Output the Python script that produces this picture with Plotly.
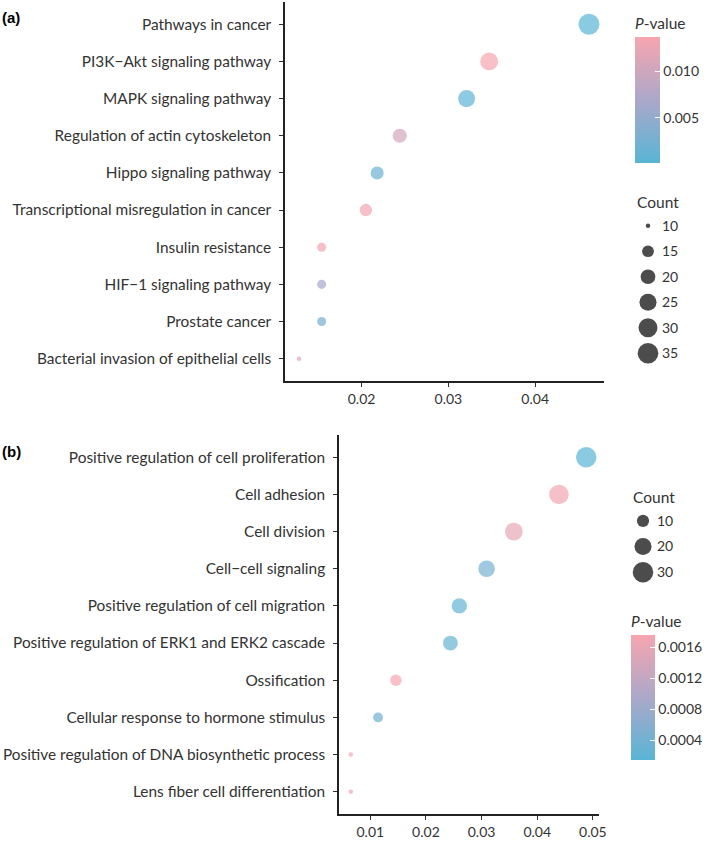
import plotly.graph_objects as go

# (a) KEGG pathways
kegg_terms = ["Pathways in cancer", "PI3K\u2212Akt signaling pathway", "MAPK signaling pathway",
              "Regulation of actin cytoskeleton", "Hippo signaling pathway",
              "Transcriptional misregulation in cancer", "Insulin resistance",
              "HIF\u22121 signaling pathway", "Prostate cancer", "Bacterial invasion of epithelial cells"]
kegg_ratio = [0.0462, 0.0347, 0.0321, 0.0244, 0.0218, 0.0205, 0.0154, 0.0154, 0.0154, 0.0128]
kegg_count = [36, 27, 25, 19, 17, 16, 12, 12, 12, 10]
kegg_p = [0.00014, 0.0137, 0.0006, 0.0105, 0.0015, 0.0132, 0.0133, 0.0065, 0.0022, 0.0115]
kegg_legend = [10, 15, 20, 25, 30, 35]

# (b) GO biological process
go_terms = ["Positive regulation of cell proliferation", "Cell adhesion", "Cell division",
            "Cell\u2212cell signaling", "Positive regulation of cell migration",
            "Positive regulation of ERK1 and ERK2 cascade", "Ossification",
            "Cellular response to hormone stimulus", "Positive regulation of DNA biosynthetic process",
            "Lens fiber cell differentiation"]
go_ratio = [0.0488, 0.0439, 0.0358, 0.0309, 0.0260, 0.0244, 0.0146, 0.0114, 0.0065, 0.0065]
go_count = [30, 27, 22, 19, 16, 15, 9, 7, 4, 4]
go_p = [0.00015, 0.00170, 0.00160, 0.00045, 0.00025, 0.00030, 0.00176, 0.00040, 0.00172, 0.00172]
go_legend = [10, 20, 30]

W, H = 709, 841
FONT = "Lato"
TXT = "#333333"
SCALE = [[0, "#58b5d5"], [0.5, "#aba8c9"], [1, "#f7a5af"]]


def dot_size(vals, cmin, cmax, dmin, dmax):
    # ggplot-like area scale
    return [dmin + (dmax - dmin) * ((v - cmin) / (cmax - cmin)) ** 0.5 for v in vals]


def px_x(a, b):
    return [a / W, b / W]


def px_y(top, bottom):
    return [1 - bottom / H, 1 - top / H]


fig = go.Figure()

ka = dict(cmin=min(kegg_count), cmax=max(kegg_count), dmin=4.5, dmax=21)
ga = dict(cmin=min(go_count), cmax=max(go_count), dmin=4.5, dmax=20.5)

fig.add_trace(go.Scatter(
    x=kegg_ratio, y=kegg_terms, mode="markers", xaxis="x", yaxis="y", showlegend=False,
    cliponaxis=False,
    marker=dict(size=dot_size(kegg_count, **ka), color=kegg_p, coloraxis="coloraxis", line_width=0),
))
fig.add_trace(go.Scatter(
    x=go_ratio, y=go_terms, mode="markers", xaxis="x2", yaxis="y2", showlegend=False,
    cliponaxis=False,
    marker=dict(size=dot_size(go_count, **ga), color=go_p, coloraxis="coloraxis2", line_width=0),
))

# size legends drawn on small hidden axes
fig.add_trace(go.Scatter(
    x=[0] * len(kegg_legend), y=[str(v) for v in kegg_legend], mode="markers",
    xaxis="x3", yaxis="y3", showlegend=False, hoverinfo="skip", cliponaxis=False,
    marker=dict(size=dot_size(kegg_legend, **ka), color="#000000", line_width=0),
))
fig.add_trace(go.Scatter(
    x=[0] * len(go_legend), y=[str(v) for v in go_legend], mode="markers",
    xaxis="x4", yaxis="y4", showlegend=False, hoverinfo="skip", cliponaxis=False,
    marker=dict(size=dot_size(go_legend, **ga), color="#000000", line_width=0),
))

axis_common = dict(showgrid=False, zeroline=False, showline=True, linecolor="#222222", linewidth=1.5,
                   ticks="outside", ticklen=4, tickwidth=1.2, tickcolor="#333333")
ylab = dict(family=FONT, size=15.4, color=TXT)
xlab = dict(family=FONT, size=14, color=TXT)
leg = dict(family=FONT, size=14, color=TXT)
ttl = dict(family=FONT, size=15.5, color=TXT)

fig.update_layout(
    width=W, height=H, margin=dict(l=0, r=0, t=0, b=0, autoexpand=False),
    paper_bgcolor="white", plot_bgcolor="white",
    font=dict(family=FONT, color=TXT),
    xaxis=dict(domain=px_x(285, 604), anchor="y", range=[0.01118, 0.04793],
               tickvals=[0.02, 0.03, 0.04], ticktext=["0.02", "0.03", "0.04"],
               tickfont=xlab, **axis_common),
    yaxis=dict(domain=px_y(2, 381), anchor="x", range=[9.6, -0.6], type="category",
               ticklabelstandoff=5, tickfont=ylab, **axis_common),
    xaxis2=dict(domain=px_x(339, 599), anchor="y2", range=[0.00438, 0.0511],
                tickvals=[0.01, 0.02, 0.03, 0.04, 0.05],
                ticktext=["0.01", "0.02", "0.03", "0.04", "0.05"], tickfont=xlab, **axis_common),
    yaxis2=dict(domain=px_y(435, 814), anchor="x2", range=[9.6, -0.6], type="category",
                ticklabelstandoff=5, tickfont=ylab, **axis_common),
    xaxis3=dict(domain=px_x(640, 656), anchor="y3", range=[-1, 1], visible=False),
    yaxis3=dict(domain=px_y(213, 366), anchor="x3", range=[5.5, -0.5], type="category",
                side="right", showline=False, showgrid=False, zeroline=False, ticks="",
                ticklabelstandoff=5, tickfont=leg),
    xaxis4=dict(domain=px_x(635, 651), anchor="y4", range=[-1, 1], visible=False),
    yaxis4=dict(domain=px_y(508, 585), anchor="x4", range=[2.5, -0.5], type="category",
                side="right", showline=False, showgrid=False, zeroline=False, ticks="",
                ticklabelstandoff=5, tickfont=leg),
    coloraxis=dict(colorscale=SCALE, colorbar=dict(
        title=dict(text="<i>P</i>-value", side="top", font=ttl),
        x=635 / W, xanchor="left", y=1 - 14 / H, yanchor="top",
        thickness=25, thicknessmode="pixels", len=149, lenmode="pixels",
        xpad=0, ypad=0, outlinewidth=0,
        tickvals=[0.005, 0.010], ticktext=["0.005", "0.010"],
        ticks="inside", ticklen=5, tickcolor="white", tickwidth=1.2, tickfont=leg)),
    coloraxis2=dict(colorscale=SCALE, colorbar=dict(
        title=dict(text="<i>P</i>-value", side="top", font=ttl),
        x=631 / W, xanchor="left", y=1 - 612 / H, yanchor="top",
        thickness=24, thicknessmode="pixels", len=148, lenmode="pixels",
        xpad=0, ypad=0, outlinewidth=0,
        tickvals=[0.0004, 0.0008, 0.0012, 0.0016],
        ticktext=["0.0004", "0.0008", "0.0012", "0.0016"],
        ticks="inside", ticklen=5, tickcolor="white", tickwidth=1.2, tickfont=leg)),
    annotations=[
        dict(text="<b>(a)</b>", x=0, y=1 - 17 / H, xref="paper", yref="paper",
             xanchor="left", yanchor="middle", showarrow=False,
             font=dict(family="Liberation Sans", size=15, color="black")),
        dict(text="<b>(b)</b>", x=0, y=1 - 452 / H, xref="paper", yref="paper",
             xanchor="left", yanchor="middle", showarrow=False,
             font=dict(family="Liberation Sans", size=15, color="black")),
        dict(text="Count", x=635 / W, y=1 - 202 / H, xref="paper", yref="paper",
             xanchor="left", yanchor="middle", showarrow=False, font=ttl),
        dict(text="Count", x=631 / W, y=1 - 497 / H, xref="paper", yref="paper",
             xanchor="left", yanchor="middle", showarrow=False, font=ttl),
    ],
)

fig.write_html("out.html", config={"displayModeBar": False},
               post_script="document.body.style.margin='0';")
